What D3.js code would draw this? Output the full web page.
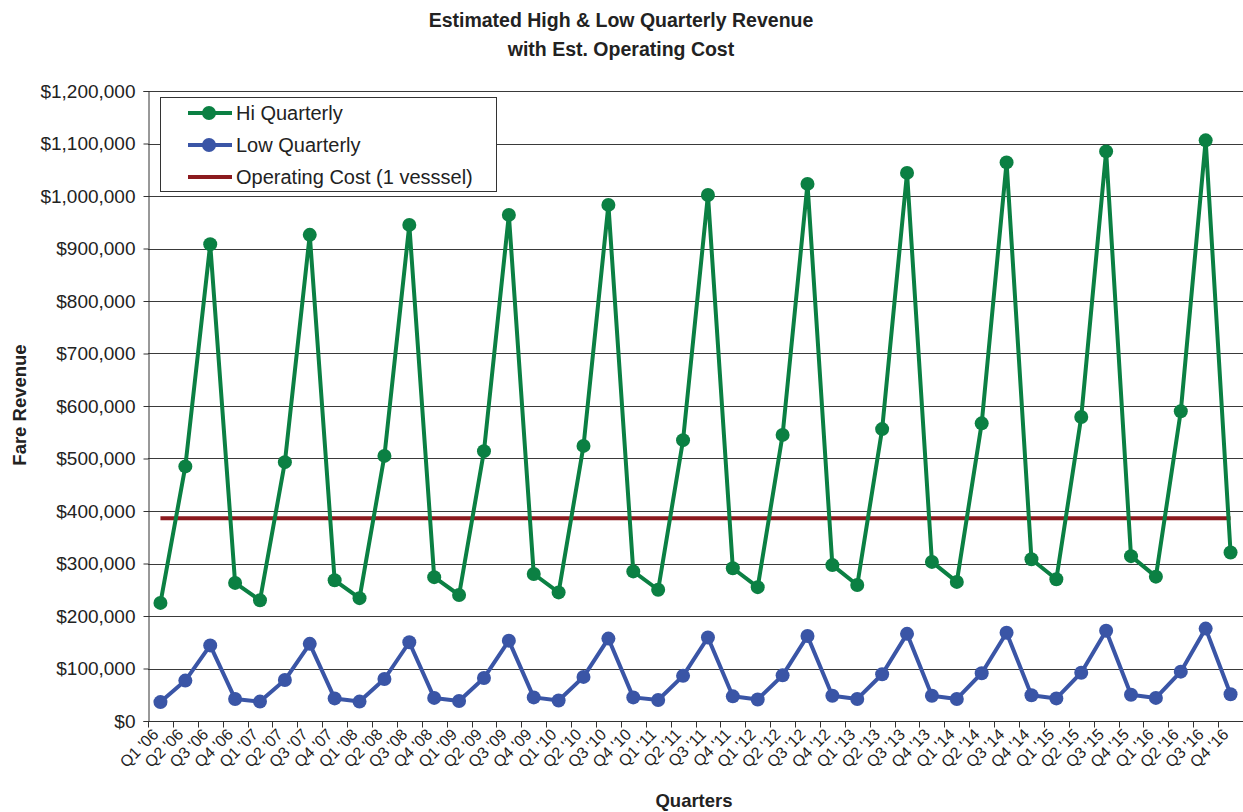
<!DOCTYPE html>
<html>
<head>
<meta charset="utf-8">
<script src="https://cdn.jsdelivr.net/npm/d3@7"></script>
<style>
  html, body { margin: 0; padding: 0; background: #fff; }
  svg { display: block; font-family: "Liberation Sans", Arial, sans-serif; }
</style>
</head>
<body>
<svg id="chart" width="1243" height="812"></svg>
<script>
// Quarter labels, Q1 '06 .. Q4 '16
const quarters = [];
for (let y = 6; y <= 16; y++) {
  for (let q = 1; q <= 4; q++) quarters.push(`Q${q} '${String(y).padStart(2, "0")}`);
}

// High-season quarterly fare revenue estimate
const hiQuarterly = [
  225000, 485000, 908000, 263000,
  230000, 493000, 926000, 268000,
  234000, 505000, 945000, 274000,
  240000, 514000, 964000, 280000,
  245000, 524000, 983000, 285000,
  250000, 535000, 1002000, 291000,
  255000, 545000, 1023000, 297000,
  259000, 556000, 1044000, 303000,
  265000, 567000, 1064000, 308000,
  270000, 579000, 1085000, 314000,
  275000, 590000, 1106000, 321000
];

// Low-season quarterly fare revenue estimate
const lowQuarterly = [
  36000, 77000, 144000, 42000,
  37000, 78000, 147000, 43000,
  37000, 80000, 150000, 44000,
  38000, 82000, 153000, 45000,
  39000, 84000, 157000, 45000,
  40000, 86000, 159000, 47000,
  41000, 87000, 162000, 48000,
  42000, 89000, 166000, 48000,
  42000, 91000, 168000, 49000,
  43000, 92000, 172000, 50000,
  44000, 94000, 176000, 51000
];

// Operating cost per quarter for one vessel
const operatingCost = quarters.map(() => 386000);

const yTicks = [0, 100000, 200000, 300000, 400000, 500000, 600000, 700000, 800000, 900000, 1000000, 1100000, 1200000];

const GREEN = "#0b8043";
const BLUE = "#3a55a6";
const RED = "#8b1a1e";

const margin = { left: 148, top: 91, right: 0, bottom: 91 };
const W = 1243, H = 812;
const plotW = W - margin.left - margin.right;
const plotH = H - margin.top - margin.bottom;

const svg = d3.select("#chart");

const x = d3.scaleBand().domain(quarters).range([margin.left, margin.left + plotW]).padding(0);
const y = d3.scaleLinear().domain([0, 1200000]).range([margin.top + plotH, margin.top]);
const cx = d => x(d) + x.bandwidth() / 2;

// Horizontal gridlines
svg.append("g")
  .selectAll("line")
  .data(yTicks.filter(v => v > 0))
  .join("line")
  .attr("x1", margin.left).attr("x2", margin.left + plotW)
  .attr("y1", d => Math.round(y(d)) + 0.5).attr("y2", d => Math.round(y(d)) + 0.5)
  .attr("stroke", "#3a3a3a").attr("stroke-width", 1);

// Y axis
const fmt = d => "$" + d3.format(",")(d);
const yAxis = svg.append("g")
  .attr("transform", `translate(${margin.left + 0.5},0)`)
  .call(d3.axisLeft(y).tickValues(yTicks).tickFormat(fmt).tickSize(5).tickPadding(8));
yAxis.select(".domain").attr("stroke", "#333");
yAxis.selectAll(".tick line").attr("stroke", "#333");
yAxis.selectAll(".tick text")
  .attr("font-size", 19).attr("fill", "#222")
  .attr("font-family", "Liberation Sans, Arial, sans-serif");

// X axis: ticks at category boundaries, labels rotated
const xAxisG = svg.append("g").attr("transform", `translate(0,${margin.top + plotH + 0.5})`);
xAxisG.append("line")
  .attr("x1", margin.left).attr("x2", margin.left + plotW)
  .attr("stroke", "#333");
xAxisG.selectAll("line.tk")
  .data(quarters.concat(["__end"]))
  .join("line").attr("class", "tk")
  .attr("x1", (d, i) => Math.round(margin.left + i * x.bandwidth()) + 0.5)
  .attr("x2", (d, i) => Math.round(margin.left + i * x.bandwidth()) + 0.5)
  .attr("y1", 0).attr("y2", 6)
  .attr("stroke", "#333");
xAxisG.selectAll("text")
  .data(quarters)
  .join("text")
  .attr("transform", d => `translate(${cx(d) - 1},${14}) rotate(-45)`)
  .attr("text-anchor", "end")
  .attr("font-size", 16)
  .attr("fill", "#222")
  .text(d => d);

// Operating cost line
const line = d3.line().x((d, i) => cx(quarters[i])).y(d => y(d));
svg.append("path")
  .datum(operatingCost)
  .attr("d", line)
  .attr("fill", "none").attr("stroke", RED).attr("stroke-width", 4);

// Series lines with markers
function drawSeries(values, color) {
  svg.append("path")
    .datum(values)
    .attr("d", line)
    .attr("fill", "none").attr("stroke", color).attr("stroke-width", 4)
    .attr("stroke-linejoin", "round");
  svg.append("g")
    .selectAll("circle")
    .data(values)
    .join("circle")
    .attr("cx", (d, i) => cx(quarters[i]))
    .attr("cy", d => y(d))
    .attr("r", 7)
    .attr("fill", color);
}
drawSeries(lowQuarterly, BLUE);
drawSeries(hiQuarterly, GREEN);

// Legend
const legend = svg.append("g");
legend.append("rect")
  .attr("x", 160.5).attr("y", 97.5).attr("width", 336).attr("height", 94)
  .attr("fill", "#fff").attr("stroke", "#333").attr("stroke-width", 1);
const legendItems = [
  { name: "Hi Quarterly", color: GREEN, marker: true },
  { name: "Low Quarterly", color: BLUE, marker: true },
  { name: "Operating Cost (1 vesssel)", color: RED, marker: false }
];
legendItems.forEach((it, i) => {
  const ly = 113 + i * 32;
  legend.append("line")
    .attr("x1", 188).attr("x2", 232).attr("y1", ly).attr("y2", ly)
    .attr("stroke", it.color).attr("stroke-width", 4);
  if (it.marker) {
    legend.append("circle").attr("cx", 209).attr("cy", ly).attr("r", 7).attr("fill", it.color);
  }
  legend.append("text")
    .attr("x", 236).attr("y", ly + 7)
    .attr("font-size", 20).attr("fill", "#222")
    .text(it.name);
});

// Titles
svg.append("text")
  .attr("x", 621).attr("y", 27).attr("text-anchor", "middle")
  .attr("font-size", 19.5).attr("font-weight", "bold").attr("fill", "#222")
  .text("Estimated High & Low Quarterly Revenue");
svg.append("text")
  .attr("x", 621).attr("y", 56).attr("text-anchor", "middle")
  .attr("font-size", 19.5).attr("font-weight", "bold").attr("fill", "#222")
  .text("with Est. Operating Cost");

svg.append("text")
  .attr("transform", "translate(26,405) rotate(-90)")
  .attr("text-anchor", "middle")
  .attr("font-size", 18.5).attr("font-weight", "bold").attr("fill", "#222")
  .text("Fare Revenue");

svg.append("text")
  .attr("x", 694).attr("y", 807).attr("text-anchor", "middle")
  .attr("font-size", 18.5).attr("font-weight", "bold").attr("fill", "#222")
  .text("Quarters");
</script>
</body>
</html>
